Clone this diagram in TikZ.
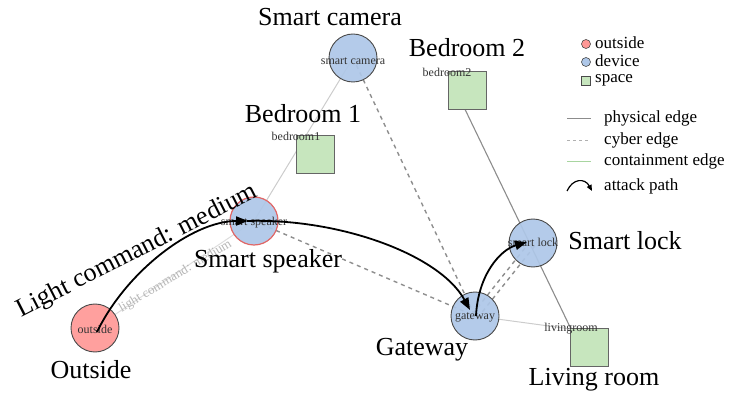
\documentclass[tikz,border=0pt]{standalone}
\usepackage{fontspec}
\setmainfont{Liberation Serif}
\usetikzlibrary{arrows.meta,backgrounds,calc}
\definecolor{devfill}{HTML}{AEC7E8}
\definecolor{outfill}{HTML}{FF9896}
\definecolor{spfill}{HTML}{C7E6BE}
\definecolor{nodeline}{HTML}{4A4A4A}
\definecolor{spkline}{HTML}{E06666}
\definecolor{physc}{HTML}{8C8C8C}
\definecolor{cyberc}{HTML}{8E8E8E}
\definecolor{contc}{HTML}{CCCCCC}
\definecolor{contgreen}{HTML}{A8D5A0}
\definecolor{faint}{HTML}{DDDDDD}
\definecolor{faintlabel}{HTML}{B5B5B5}
\begin{document}
\begin{tikzpicture}[x=1pt,y=-1pt,
  dev/.style={circle,draw=nodeline,fill=devfill,fill opacity=0.92,line width=0.9pt,minimum size=48pt,inner sep=0pt},
  outnode/.style={dev,fill=outfill},
  spacebox/.style={rectangle,draw=nodeline!85,fill=spfill,line width=0.9pt,minimum size=38pt,inner sep=0pt},
  smalltxt/.style={font=\fontsize{12}{12}\selectfont,text=black!80,inner sep=0pt},
  bigtxt/.style={font=\fontsize{26}{28}\selectfont,anchor=base,inner sep=0pt},
  legtxt/.style={font=\fontsize{17}{18}\selectfont,anchor=west,inner sep=0pt},
  physedge/.style={draw=physc,line width=1.1pt},
  cyberedge/.style={draw=cyberc,line width=1.4pt,dash pattern=on 4pt off 4pt},
  contedge/.style={draw=contc,line width=1pt},
  attack/.style={draw=black,line width=1.8pt,-{Triangle[length=12pt,width=9pt]}}
]
\useasboundingbox (0,0) rectangle (731,398);

% nodes
\node[dev] (cam) at (353,58) {};
\node[dev,draw=spkline,line width=1.2pt] (spk) at (254,221) {};
\node[outnode] (outs) at (95,328) {};
\node[dev] (gw) at (475,316) {};
\node[dev] (lock) at (533,243) {};
\node[spacebox] (b2sq) at (467,90) {};
\node[spacebox] (b1sq) at (315,154) {};
\node[spacebox] (lrsq) at (589.5,347.5) {};
\coordinate (b2) at (447,72);
\coordinate (b1) at (296,136);
\coordinate (lr) at (571,329);

% edges
\begin{pgfonlayer}{background}
\draw[contc,line width=1pt] (cam.center) -- (spk.center);
\draw[draw=faint,line width=1pt] (outs.center) -- (spk.center);
\draw[contedge] (gw.center) -- (lr);
\draw[physedge] (b2) -- (lr);
\draw[cyberedge] (cam.center) -- (gw.center);
\draw[cyberedge] (spk.center) -- (gw.center);
\draw[cyberedge] ([shift={(2.5,2)}]gw.center) -- ([shift={(2.5,2)}]lock.center);
\draw[cyberedge] ([shift={(-2.5,-2)}]gw.center) -- ([shift={(-2.5,-2)}]lock.center);
\end{pgfonlayer}
\node[font=\fontsize{13}{13}\selectfont,text=faintlabel,inner sep=0pt,rotate=31] (lcm) at ($(outs)!0.5!(spk)+(1,2)$) {light command: medium};

% small labels
\node[smalltxt] (tcam) at (353,61) {smart camera};
\node[smalltxt] (tspk) at (254,223) {smart speaker};
\node[smalltxt] (tout) at (95,329) {outside};
\node[smalltxt] (tgw) at (475,317) {gateway};
\node[smalltxt] (tlock) at (533,242) {smart lock};
\node[smalltxt] (tb2) at (b2) {bedroom2};
\node[smalltxt] (tb1) at (b1) {bedroom1};
\node[smalltxt] (tlr) at (lr) {livingroom};

% big labels
\node[bigtxt] (Lcam) at (330,26) {Smart camera};
\node[bigtxt] (Lb2) at (467,57) {Bedroom 2};
\node[bigtxt] (Lb1) at (303,123) {Bedroom 1};
\node[bigtxt] (Lspk) at (268,267) {Smart speaker};
\node[bigtxt] (Lout) at (91,378) {Outside};
\node[bigtxt] (Lgw) at (422,355) {Gateway};
\node[bigtxt] (Llock) at (625,250) {Smart lock};
\node[bigtxt] (Llr) at (594,385) {Living room};
\node[bigtxt,rotate=27] (Llc) at (140,257) {Light command: medium};

% attack path
\draw[attack] ([shift={(2,4)}]outs.center) .. controls (126,272) and (192,221) .. ([shift={(-6,0)}]spk.center);
\draw[attack] ([shift={(-7,0)}]spk.center) .. controls (340,218) and (440,255) .. ([shift={(-5,-6)}]gw.center);
\draw[attack] ([shift={(1,0)}]gw.center) .. controls (478,275) and (500,250) .. ([shift={(-6,-1)}]lock.center);

% legend
\node[circle,draw=nodeline,fill=outfill,minimum size=9pt,inner sep=0pt,line width=0.6pt] (k1) at (586,44) {};
\node[legtxt] (k1t) at (595,43) {outside};
\node[circle,draw=nodeline,fill=devfill,minimum size=9pt,inner sep=0pt,line width=0.6pt] (k2) at (586,62) {};
\node[legtxt] (k2t) at (595,61) {device};
\node[rectangle,draw=nodeline,fill=spfill,minimum size=9pt,inner sep=0pt,line width=0.6pt] (k3) at (586,81) {};
\node[legtxt] (k3t) at (595,80) {space};
\coordinate (p1a) at (567,119); \coordinate (p1b) at (591,119);
\draw[physedge,line width=1pt] (p1a) -- (p1b);
\node[legtxt] (k4t) at (604,118) {physical edge};
\coordinate (p2a) at (567,141); \coordinate (p2b) at (591,141);
\draw[draw=cyberc!70,line width=1pt,dash pattern=on 3pt off 3pt] (p2a) -- (p2b);
\node[legtxt] (k5t) at (604,140) {cyber edge};
\coordinate (p3a) at (567,162); \coordinate (p3b) at (591,162);
\draw[draw=contgreen,line width=1pt] (p3a) -- (p3b);
\node[legtxt] (k6t) at (604,161) {containment edge};
\coordinate (p4a) at (567,191); \coordinate (p4b) at (592,191);
\draw[draw=black,line width=1.2pt,-{Triangle[length=6pt,width=5pt]}] (p4a) .. controls (573,178) and (585,178) .. (p4b);
\node[legtxt] (k7t) at (604,186) {attack path};
\end{tikzpicture}
\end{document}
